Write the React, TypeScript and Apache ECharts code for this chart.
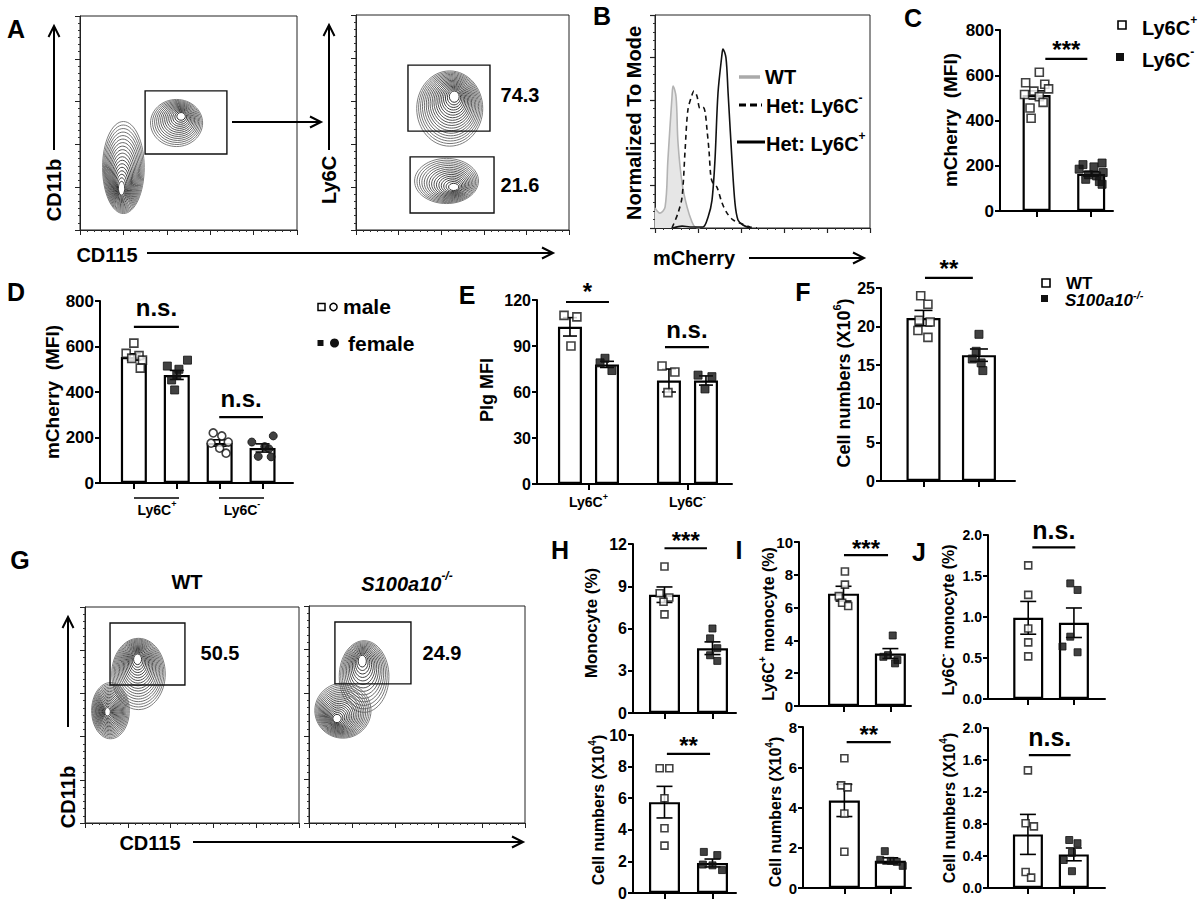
import React, { useEffect, useRef } from "react";
import * as echarts from "echarts";

const FONT = "'Liberation Sans', Arial, Helvetica, sans-serif";

// ---------------- Panel B: histogram (x: % of mCherry axis, y: % of mode)
const B_WT = [[0, 9.4], [2.3, 7], [4.7, 9.9], [6, 32], [7.9, 61.5], [8.4, 66.7], [9.8, 61.5], [10.7, 40], [12.6, 21], [14.9, 9.9], [17.2, 2.8], [18.6, 0.5], [21, 0]];
const B_NEG = [[7.9, 0], [10.7, 7], [12.6, 14.6], [14, 36.6], [15.3, 55.4], [17.2, 62.4], [18.1, 64.3], [19.5, 62], [20.9, 56.3], [22.3, 56.8], [23.3, 54.5], [24.2, 46], [25.1, 36.6], [26, 24], [27, 21], [28.8, 19.2], [31.2, 11.7], [33.5, 7], [36.3, 3.8], [39.5, 2.3], [44.2, 0.5], [47.4, 0]];
const B_POS = [[8.4, 0], [12.6, 0.9], [16.3, 0.5], [22.3, 0.5], [24.7, 5.2], [26.5, 13], [27.9, 32], [29.3, 63.4], [31.2, 82], [31.6, 84], [33, 80], [34, 63.4], [35.8, 32], [37.2, 11.7], [38.6, 3.8], [40.9, 1.4], [44.2, 0]];

// ---------------- Flow plots: populations [cx, cy, rx, ry, coreX, coreY, rings], gates [x0,y0,x1,y1]
const A1_POPS = [[20, 29.2, 9.6, 21.5, 19, 17.8, 18], [44.5, 50, 12, 11, 47, 53.7, 14]];
const A1_GATES = [[30, 35.5, 67.7, 65]];
const A2_POPS = [[44, 56.5, 15.5, 17.5, 46.5, 63, 18], [42.5, 22.8, 15, 10.5, 46.5, 19.5, 15]];
const A2_GATES = [[24.4, 46, 62.9, 76.7], [25.4, 7.9, 64.8, 34]];
const A2_PCT = ["74.3", "21.6"];
const G1_POPS = [[25, 69, 12.5, 16.5, 24.5, 77, 18], [11.9, 52, 8.8, 13, 10.3, 51.4, 18]];
const G1_GATES = [[11.7, 63.9, 46.7, 92.6]];
const G2_POPS = [[25.5, 67.5, 11.5, 16.5, 24.5, 76, 14], [15.7, 51.8, 13, 12.7, 12.5, 47.5, 18]];
const G2_GATES = [[12, 64.1, 47.2, 92.6]];
const G_PCT = ["50.5", "24.9"];

// ---------------- Panel C
const C_MEAN = [513, 164];
const C_SEM = [18, 10];
const C_PTS_POS = [613, 567, 560, 540, 530, 515, 505, 480, 455, 410];
const C_JIT_POS = [0.05, -0.2, 0.15, 0.22, -0.05, -0.22, 0.05, 0.12, -0.12, -0.1];
const C_PTS_NEG = [212, 205, 195, 185, 170, 160, 155, 140, 130, 118];
const C_JIT_NEG = [0.2, -0.15, 0.05, -0.22, 0.22, -0.05, 0.1, -0.1, 0.15, 0.2];
const C_SIG = [[0.16, 0.93, 672]];
const C_SIG_TXT = ["***"];

// ---------------- Panel D
const D_MEAN = [554, 475, 176, 154];
const D_SEM = [14, 20, 14, 18];
const D_M_POS = [615, 570, 560, 548, 540, 505];
const D_J_M_POS = [0.0, -0.18, 0.12, -0.05, 0.2, 0.15];
const D_F_POS = [540, 514, 500, 475, 453, 409];
const D_J_F_POS = [0.25, -0.22, 0.05, 0.0, -0.12, -0.05];
const D_M_NEG = [220, 207, 180, 175, 153, 131];
const D_J_M_NEG = [-0.15, 0.05, 0.2, -0.2, 0.0, 0.15];
const D_F_NEG = [207, 180, 160, 150, 117, 115];
const D_J_F_NEG = [0.25, -0.25, 0.05, 0.15, -0.1, 0.2];
const D_SIG = [[0, 1.05, 686], [1.99, 3.01, 290]];
const D_SIG_TXT = ["n.s.", "n.s."];

// ---------------- Panel E
const E_MEAN = [102.5, 78, 67.5, 67.5];
const E_SEM = [6, 2, 7.5, 3];
const E_WT_POS = [110, 109, 90];
const E_J_WT_POS = [-0.06, 0.07, 0.01];
const E_KO_POS = [82, 79, 74];
const E_J_KO_POS = [-0.02, -0.07, 0.05];
const E_WT_NEG = [77, 73, 59.6];
const E_J_WT_NEG = [-0.07, 0.06, -0.01];
const E_KO_NEG = [71, 70, 62];
const E_J_KO_NEG = [-0.08, 0.06, -0.01];
const E_SIG = [[-0.227, 0.207, 118.7], [0.773, 1.217, 89.3]];
const E_SIG_TXT = ["*", "n.s."];
const E_LABELS = ["{n|Ly6C}{s|+}", "{n|Ly6C}{s|-}"];

// ---------------- Panel F
const F_MEAN = [21.1, 16.3];
const F_SEM = [1.0, 0.8];
const F_WT = [24, 22.9, 20.8, 20.6, 19.5, 18.6];
const F_J_WT = [-0.05, 0.08, -0.08, 0.12, -0.1, 0.08];
const F_KO = [19, 16.8, 15.8, 15.3, 14.3];
const F_J_KO = [0.0, -0.05, -0.12, 0.04, 0.07];
const F_SIG = [[0.027, 0.89, 26.3]];
const F_SIG_TXT = ["**"];

// ---------------- Panel H
const HT_MEAN = [8.4, 4.6];
const HT_SEM = [0.55, 0.45];
const HT_WT = [10.4, 8.5, 8.2, 7.9, 7.0];
const HT_J_WT = [0.0, -0.1, 0.1, -0.02, 0.0];
const HT_KO = [6.0, 5.3, 4.6, 4.1, 3.7];
const HT_J_KO = [0.0, -0.05, 0.1, -0.05, 0.1];
const HT_SIG = [[0, 0.885, 11.7]];
const HB_MEAN = [5.75, 1.9];
const HB_SEM = [1.0, 0.25];
const HB_WT = [7.9, 7.9, 6.0, 4.1, 3.0];
const HB_J_WT = [-0.1, 0.1, 0.0, 0.0, 0.0];
const HB_KO = [2.6, 2.4, 1.8, 1.75, 1.45];
const HB_J_KO = [-0.18, 0.1, -0.2, 0.0, 0.2];
const HB_SIG = [[0.05, 0.95, 8.8]];

// ---------------- Panel I
const IT_MEAN = [6.85, 3.2];
const IT_SEM = [0.45, 0.3];
const IT_WT = [8.2, 7.4, 6.7, 6.3, 6.1];
const IT_J_WT = [0.03, 0.03, -0.1, -0.03, 0.1];
const IT_KO = [4.3, 3.1, 3.0, 2.8, 2.6];
const IT_J_KO = [0.05, -0.05, -0.15, 0.15, 0.1];
const IT_SIG = [[0.01, 0.95, 9.2]];
const IB_MEAN = [4.35, 1.35];
const IB_SEM = [0.8, 0.15];
const IB_WT = [6.45, 5.1, 5.0, 3.7, 1.8];
const IB_J_WT = [0.0, -0.07, 0.07, 0.0, 0.0];
const IB_KO = [1.83, 1.4, 1.35, 1.3, 1.1];
const IB_J_KO = [-0.12, -0.22, 0.01, 0.14, 0.27];
const IB_SIG = [[0.05, 1.01, 7.25]];

// ---------------- Panel J
const JT_MEAN = [0.99, 0.93];
const JT_SEM = [0.2, 0.18];
const JT_WT = [1.63, 1.27, 0.86, 0.69, 0.52];
const JT_J_WT = [0, 0, 0, 0, 0];
const JT_KO = [1.41, 1.33, 0.76, 0.64, 0.57];
const JT_J_KO = [-0.08, 0.08, -0.08, -0.25, 0.08];
const JT_SIG = [[0.09, 1.03, 1.85]];
const JB_MEAN = [0.67, 0.42];
const JB_SEM = [0.25, 0.08];
const JB_WT = [1.47, 0.81, 0.77, 0.2, 0.13];
const JB_J_WT = [0, -0.05, 0.13, -0.05, 0.07];
const JB_KO = [0.6, 0.56, 0.44, 0.35, 0.21];
const JB_J_KO = [-0.1, 0.08, -0.04, -0.22, -0.04];
const JB_SIG = [[0.02, 0.93, 1.66]];

// ==========================================================
function richStyles(fs: number, italic = false) {
  const base: any = { fontSize: fs, fontWeight: "bold", fontFamily: FONT, fontStyle: italic ? "italic" : "normal", fill: "#000", color: "#000" };
  const sfs = Math.round(fs * 0.62);
  return {
    n: { ...base, verticalAlign: "bottom", lineHeight: Math.round(fs * 1.2) },
    s: { ...base, fontSize: sfs, verticalAlign: "top", lineHeight: sfs },
  };
}
function rich(parts: [string, string][], fs: number, italic = false) {
  return { text: parts.map(([t, k]) => `{${k}|${t}}`).join(""), rich: richStyles(fs, italic) };
}

function txt(x: number, y: number, content: string | { text: string; rich: any }, fs: number, o: any = {}) {
  const r = typeof content === "string" ? { text: content } : content;
  return {
    type: "text", x, y, rotation: o.rot || 0, z: 50,
    style: {
      ...r, fontSize: fs, fontWeight: o.fw || "bold", fontStyle: o.it ? "italic" : "normal",
      fontFamily: FONT, fill: "#000", align: o.align || "center", verticalAlign: "middle",
    },
  };
}

function line(x1: number, y1: number, x2: number, y2: number, w = 2, extra: any = {}) {
  return { type: "line", z: 50, shape: { x1, y1, x2, y2 }, style: { stroke: "#000", lineWidth: w, ...extra } };
}

function arrow(x1: number, y1: number, x2: number, y2: number) {
  const a = Math.atan2(y2 - y1, x2 - x1);
  const L = 11, W = 5.5;
  const bx = x2 - L * Math.cos(a), by = y2 - L * Math.sin(a);
  const px = -Math.sin(a) * W, py = Math.cos(a) * W;
  return [
    line(x1, y1, x2, y2, 2),
    { type: "polyline", z: 50, shape: { points: [[bx + px, by + py], [x2, y2], [bx - px, by - py]] }, style: { stroke: "#000", lineWidth: 2, fill: "none" } },
  ];
}

function buildOption() {
  const option: any = { animation: false, backgroundColor: "#fff", grid: [], xAxis: [], yAxis: [], series: [], graphic: [] };
  const G = option.graphic;

  const addGrid = (l: number, t: number, r: number, b: number, extra: any = {}) => {
    option.grid.push({ left: l, top: t, width: r - l, height: b - t, containLabel: false, ...extra });
    return option.grid.length - 1;
  };

  // ---------- flow cytometry contour plots
  const addFlow = (box: number[], pops: number[][], gates: number[][]) => {
    const gi = addGrid(box[0], box[1], box[2], box[3], { show: true, borderColor: "#222", borderWidth: 1, backgroundColor: "transparent" });
    const ax = () => ({
      type: "value", gridIndex: gi, min: 0, max: 100, interval: 20,
      axisLine: { show: true, onZero: false, lineStyle: { color: "#222", width: 1 } },
      axisTick: { show: true, inside: false, length: 5, lineStyle: { color: "#222", width: 1 } },
      minorTick: { show: true, splitNumber: 6, length: 2, lineStyle: { color: "#333", width: 1 } },
      axisLabel: { show: false }, splitLine: { show: false },
    });
    option.xAxis.push(ax());
    option.yAxis.push(ax());
    option.series.push({
      type: "custom", xAxisIndex: gi, yAxisIndex: gi, data: pops, z: 3,
      renderItem: (params: any, api: any) => {
        const cx = api.value(0), cy = api.value(1), rx = api.value(2), ry = api.value(3);
        const kx = api.value(4), ky = api.value(5), n = api.value(6);
        const children: any[] = [];
        for (let i = 0; i < n; i++) {
          const s = 1 - (i * 0.9) / n;
          const c = api.coord([kx + (cx - kx) * s, ky + (cy - ky) * s]);
          const sz = api.size([rx * s, ry * s]);
          const g = Math.round(110 - (85 * i) / Math.max(1, n - 1));
          children.push({ type: "ellipse", shape: { cx: c[0], cy: c[1], rx: sz[0], ry: sz[1] }, style: { fill: "none", stroke: `rgb(${g},${g},${g})`, lineWidth: 0.9 } });
        }
        return { type: "group", children };
      },
    });
    option.series.push({
      type: "custom", xAxisIndex: gi, yAxisIndex: gi, data: gates, z: 4,
      renderItem: (params: any, api: any) => {
        const p0 = api.coord([api.value(0), api.value(3)]);
        const p1 = api.coord([api.value(2), api.value(1)]);
        return { type: "rect", shape: { x: p0[0], y: p0[1], width: p1[0] - p0[0], height: p1[1] - p0[1] }, style: { fill: "none", stroke: "#111", lineWidth: 1.4 } };
      },
    });
  };

  addFlow([80, 16, 297, 230], A1_POPS, A1_GATES);
  addFlow([356, 15, 569, 230], A2_POPS, A2_GATES);
  addFlow([85, 607, 299, 823], G1_POPS, G1_GATES);
  addFlow([309, 606, 525, 823], G2_POPS, G2_GATES);

  // ---------- histogram B
  {
    const gi = addGrid(655, 15, 870, 228, { show: true, borderColor: "#222", borderWidth: 1, backgroundColor: "transparent" });
    const ax = () => ({
      type: "value", gridIndex: gi, min: 0, max: 100, interval: 20,
      axisLine: { show: true, onZero: false, lineStyle: { color: "#222", width: 1 } },
      axisTick: { show: true, length: 5, lineStyle: { color: "#222", width: 1.2 } },
      minorTick: { show: true, splitNumber: 5, length: 2, lineStyle: { color: "#333" } },
      axisLabel: { show: false }, splitLine: { show: false },
    });
    option.xAxis.push(ax());
    option.yAxis.push(ax());
    option.series.push(
      { type: "line", xAxisIndex: gi, yAxisIndex: gi, data: B_WT, symbol: "none", smooth: 0.35, z: 2, lineStyle: { color: "#b3b3b3", width: 1.6 }, areaStyle: { color: "#e6e6e6", opacity: 1 } },
      { type: "line", xAxisIndex: gi, yAxisIndex: gi, data: B_NEG, symbol: "none", smooth: 0.3, z: 3, lineStyle: { color: "#111", width: 1.6, type: [5, 4] } },
      { type: "line", xAxisIndex: gi, yAxisIndex: gi, data: B_POS, symbol: "none", smooth: 0.3, z: 3, lineStyle: { color: "#111", width: 1.6 } }
    );
  }

  // ---------- bar panels
  type PSet = { vals: number[]; jit: number[]; bar: number; sym: string; filled: boolean };
  const addBars = (c: any) => {
    const gi = addGrid(c.box[0], c.box[1], c.box[2], c.box[3]);
    option.xAxis.push({
      type: "value", gridIndex: gi, min: c.xr[0], max: c.xr[1],
      axisLine: { show: true, onZero: false, lineStyle: { color: "#000", width: 2 } },
      axisTick: { show: true, customValues: c.ticks, length: 6, lineStyle: { color: "#000", width: 2 } },
      axisLabel: c.xLabels
        ? { show: true, customValues: c.ticks, margin: 8, formatter: (v: number) => c.xLabels[Math.round(v)], rich: richStyles(14) }
        : { show: false },
      splitLine: { show: false },
    });
    option.yAxis.push({
      type: "value", gridIndex: gi, min: 0, max: c.yMax, interval: c.yInt,
      axisLine: { show: true, onZero: false, lineStyle: { color: "#000", width: 2 } },
      axisTick: { show: true, length: 5, lineStyle: { color: "#000", width: 2 } },
      axisLabel: { fontSize: c.fs, fontWeight: "bold", fontFamily: FONT, color: "#000", margin: 6, formatter: (v: number) => v.toFixed(c.dec) },
      splitLine: { show: false },
    });
    option.series.push({
      type: "bar", xAxisIndex: gi, yAxisIndex: gi, z: 2, barWidth: c.barW,
      data: c.pos.map((p: number, i: number) => [p, c.means[i]]),
      itemStyle: { color: "#fff", borderColor: "#000", borderWidth: 2.2 },
    });
    option.series.push({
      type: "custom", xAxisIndex: gi, yAxisIndex: gi, z: 4, clip: false,
      data: c.pos.map((p: number, i: number) => [p, c.means[i], c.sems[i]]),
      renderItem: (params: any, api: any) => {
        const x = api.value(0), m = api.value(1), s = api.value(2);
        const t = api.coord([x, m + s]), b = api.coord([x, m - s]);
        const w = c.cap;
        const st = { stroke: "#000", lineWidth: 1.6 };
        return {
          type: "group",
          children: [
            { type: "line", shape: { x1: t[0], y1: t[1], x2: b[0], y2: b[1] }, style: st },
            { type: "line", shape: { x1: t[0] - w, y1: t[1], x2: t[0] + w, y2: t[1] }, style: st },
            { type: "line", shape: { x1: b[0] - w, y1: b[1], x2: b[0] + w, y2: b[1] }, style: st },
          ],
        };
      },
    });
    c.sets.forEach((s: PSet) => {
      option.series.push({
        type: "scatter", xAxisIndex: gi, yAxisIndex: gi, z: 5, symbol: s.sym, symbolSize: c.sym,
        data: s.vals.map((v, i) => [c.pos[s.bar] + s.jit[i], v]),
        itemStyle: s.filled ? { color: "#111", borderColor: "#111", borderWidth: 1 } : { color: "#fff", borderColor: "#111", borderWidth: 1.6 },
      });
    });
    option.series.push({
      type: "custom", xAxisIndex: gi, yAxisIndex: gi, z: 6, clip: false,
      data: c.sig,
      renderItem: (params: any, api: any) => {
        const p0 = api.coord([api.value(0), api.value(2)]);
        const p1 = api.coord([api.value(1), api.value(2)]);
        const label = c.sigTxt[params.dataIndex];
        const star = label.indexOf("*") >= 0;
        return {
          type: "group",
          children: [
            { type: "line", shape: { x1: p0[0], y1: p0[1], x2: p1[0], y2: p1[1] }, style: { stroke: "#000", lineWidth: 2.2 } },
            {
              type: "text", x: (p0[0] + p1[0]) / 2, y: p0[1] - (star ? c.dyStar : c.dyNs),
              style: { text: label, fontSize: star ? 24 : c.nsFs, fontWeight: "bold", fontFamily: FONT, fill: "#000", align: "center", verticalAlign: "middle" },
            },
          ],
        };
      },
    });
  };

  const two = (wt: number[], jwt: number[], ko: number[], jko: number[]): PSet[] => [
    { vals: wt, jit: jwt, bar: 0, sym: "rect", filled: false },
    { vals: ko, jit: jko, bar: 1, sym: "rect", filled: true },
  ];

  // C
  addBars({ box: [1000, 30, 1113, 211], xr: [-0.67, 1.4], pos: [0, 1], ticks: [0, 1], barW: 28, yMax: 800, yInt: 200, dec: 0, fs: 17,
    means: C_MEAN, sems: C_SEM, cap: 8, sym: 8, sets: two(C_PTS_POS, C_JIT_POS, C_PTS_NEG, C_JIT_NEG),
    sig: C_SIG, sigTxt: C_SIG_TXT, dyStar: 9, dyNs: 18, nsFs: 24 });
  // D
  addBars({ box: [100, 301, 293, 483], xr: [-0.79, 3.71], pos: [0, 1, 2, 3], ticks: [0, 1, 2, 3], barW: 26, yMax: 800, yInt: 200, dec: 0, fs: 17,
    means: D_MEAN, sems: D_SEM, cap: 7, sym: 8,
    sets: [
      { vals: D_M_POS, jit: D_J_M_POS, bar: 0, sym: "rect", filled: false },
      { vals: D_F_POS, jit: D_J_F_POS, bar: 1, sym: "rect", filled: true },
      { vals: D_M_NEG, jit: D_J_M_NEG, bar: 2, sym: "circle", filled: false },
      { vals: D_F_NEG, jit: D_J_F_NEG, bar: 3, sym: "circle", filled: true },
    ],
    sig: D_SIG, sigTxt: D_SIG_TXT, dyStar: 9, dyNs: 19, nsFs: 24 });
  // E
  addBars({ box: [537, 300, 732, 484], xr: [-0.52, 1.45], pos: [-0.187, 0.187, 0.813, 1.187], ticks: [0, 1], barW: 24, yMax: 120, yInt: 30, dec: 0, fs: 16,
    means: E_MEAN, sems: E_SEM, cap: 7, sym: 8, xLabels: E_LABELS,
    sets: [
      { vals: E_WT_POS, jit: E_J_WT_POS, bar: 0, sym: "rect", filled: false },
      { vals: E_KO_POS, jit: E_J_KO_POS, bar: 1, sym: "rect", filled: true },
      { vals: E_WT_NEG, jit: E_J_WT_NEG, bar: 2, sym: "rect", filled: false },
      { vals: E_KO_NEG, jit: E_J_KO_NEG, bar: 3, sym: "rect", filled: true },
    ],
    sig: E_SIG, sigTxt: E_SIG_TXT, dyStar: 10, dyNs: 18, nsFs: 24 });
  // F
  addBars({ box: [881, 288, 1015, 481], xr: [-0.766, 1.65], pos: [0, 1], ticks: [0, 1], barW: 34, yMax: 25, yInt: 5, dec: 0, fs: 16,
    means: F_MEAN, sems: F_SEM, cap: 9, sym: 8, sets: two(F_WT, F_J_WT, F_KO, F_J_KO),
    sig: F_SIG, sigTxt: F_SIG_TXT, dyStar: 9, dyNs: 18, nsFs: 24 });
  // H
  addBars({ box: [633, 544, 736, 713], xr: [-0.656, 1.49], pos: [0, 1], ticks: [0, 1], barW: 31, yMax: 12, yInt: 3, dec: 0, fs: 16,
    means: HT_MEAN, sems: HT_SEM, cap: 8, sym: 7, sets: two(HT_WT, HT_J_WT, HT_KO, HT_J_KO),
    sig: HT_SIG, sigTxt: ["***"], dyStar: 8, dyNs: 18, nsFs: 24 });
  addBars({ box: [633, 735, 736, 893], xr: [-0.656, 1.49], pos: [0, 1], ticks: [0, 1], barW: 31, yMax: 10, yInt: 2, dec: 0, fs: 16,
    means: HB_MEAN, sems: HB_SEM, cap: 8, sym: 7, sets: two(HB_WT, HB_J_WT, HB_KO, HB_J_KO),
    sig: HB_SIG, sigTxt: ["**"], dyStar: 8, dyNs: 18, nsFs: 24 });
  // I
  addBars({ box: [799, 542, 911, 706], xr: [-0.95, 1.44], pos: [0, 1], ticks: [0, 1], barW: 31, yMax: 10, yInt: 2, dec: 0, fs: 15,
    means: IT_MEAN, sems: IT_SEM, cap: 8, sym: 7, sets: two(IT_WT, IT_J_WT, IT_KO, IT_J_KO),
    sig: IT_SIG, sigTxt: ["***"], dyStar: 7, dyNs: 18, nsFs: 24 });
  addBars({ box: [803, 727, 911, 888], xr: [-0.9, 1.45], pos: [0, 1], ticks: [0, 1], barW: 31, yMax: 8, yInt: 2, dec: 0, fs: 15,
    means: IB_MEAN, sems: IB_SEM, cap: 8, sym: 7, sets: two(IB_WT, IB_J_WT, IB_KO, IB_J_KO),
    sig: IB_SIG, sigTxt: ["**"], dyStar: 8, dyNs: 18, nsFs: 24 });
  // J
  addBars({ box: [988, 535, 1105, 699], xr: [-0.88, 1.68], pos: [0, 1], ticks: [0, 1], barW: 30, yMax: 2, yInt: 0.5, dec: 1, fs: 14,
    means: JT_MEAN, sems: JT_SEM, cap: 8, sym: 7, sets: two(JT_WT, JT_J_WT, JT_KO, JT_J_KO),
    sig: JT_SIG, sigTxt: ["n.s."], dyStar: 8, dyNs: 17, nsFs: 25 });
  addBars({ box: [988, 728, 1105, 888], xr: [-0.87, 1.68], pos: [0, 1], ticks: [0, 1], barW: 30, yMax: 2, yInt: 0.4, dec: 1, fs: 14,
    means: JB_MEAN, sems: JB_SEM, cap: 8, sym: 7, sets: two(JB_WT, JB_J_WT, JB_KO, JB_J_KO),
    sig: JB_SIG, sigTxt: ["n.s."], dyStar: 8, dyNs: 18, nsFs: 25 });

  // ---------- panel letters
  [["A", 16, 29], ["B", 602, 16], ["C", 913, 18], ["D", 16, 292], ["E", 467, 295], ["F", 803, 292], ["G", 20, 560], ["H", 560, 550], ["I", 739, 550], ["J", 919, 552]].forEach(
    ([t, x, y]: any) => G.push(txt(x, y, t, 25))
  );

  // ---------- A annotations
  G.push(txt(54, 190, "CD11b", 20, { rot: Math.PI / 2 }), ...arrow(54, 150, 54, 26));
  G.push(txt(329, 180, "Ly6C", 20, { rot: Math.PI / 2 }), ...arrow(329, 150, 329, 25));
  G.push(txt(107, 255, "CD115", 20), ...arrow(147, 253, 553, 253));
  G.push(...arrow(232, 122, 321, 122));
  G.push(txt(520, 95, A2_PCT[0], 20), txt(520, 185, A2_PCT[1], 20));

  // ---------- B annotations
  G.push(txt(634, 123, "Normalized To Mode", 20, { rot: Math.PI / 2 }));
  G.push(txt(694, 258, "mCherry", 20), ...arrow(749, 258, 864, 258));
  G.push(line(739, 77, 760, 77, 3.5, { stroke: "#aaa" }), txt(765, 77, "WT", 20, { align: "left" }));
  G.push(line(739, 105, 762, 105, 3, { lineDash: [7, 4] }), txt(766, 104, rich([["Het: Ly6C", "n"], ["-", "s"]], 20), 20, { align: "left" }));
  G.push(line(737, 142, 765, 142, 3), txt(766, 142, rich([["Het: Ly6C", "n"], ["+", "s"]], 20), 20, { align: "left" }));

  // ---------- C annotations
  G.push(txt(950, 120, "mCherry  (MFI)", 19, { rot: Math.PI / 2 }));
  G.push({ type: "rect", z: 50, shape: { x: 1118, y: 21, width: 8, height: 8 }, style: { fill: "#fff", stroke: "#000", lineWidth: 1.6 } });
  G.push({ type: "rect", z: 50, shape: { x: 1116, y: 53, width: 8, height: 8 }, style: { fill: "#111" } });
  G.push(txt(1142, 26, rich([["Ly6C", "n"], ["+", "s"]], 20), 20, { align: "left" }));
  G.push(txt(1142, 58, rich([["Ly6C", "n"], ["-", "s"]], 20), 20, { align: "left" }));

  // ---------- D annotations
  G.push(txt(52, 392, "mCherry  (MFI)", 19, { rot: Math.PI / 2 }));
  G.push(line(134, 498, 179, 498, 1.6), line(219, 498, 264, 498, 1.6));
  G.push(txt(157, 508, rich([["Ly6C", "n"], ["+", "s"]], 14), 14), txt(242, 508, rich([["Ly6C", "n"], ["-", "s"]], 14), 14));
  G.push({ type: "rect", z: 50, shape: { x: 318, y: 303.5, width: 7, height: 7 }, style: { fill: "#fff", stroke: "#000", lineWidth: 1.5 } });
  G.push({ type: "circle", z: 50, shape: { cx: 333.5, cy: 307, r: 3.6 }, style: { fill: "#fff", stroke: "#000", lineWidth: 1.5 } });
  G.push(txt(343, 306, "male", 21, { align: "left" }));
  G.push({ type: "rect", z: 50, shape: { x: 317.5, y: 340, width: 6, height: 6 }, style: { fill: "#111" } });
  G.push({ type: "circle", z: 50, shape: { cx: 334.5, cy: 343, r: 4.5 }, style: { fill: "#111" } });
  G.push(txt(348, 343, "female", 21, { align: "left" }));

  // ---------- E annotations
  G.push(txt(487, 390, "Plg MFI", 18, { rot: Math.PI / 2 }));

  // ---------- F annotations
  G.push(txt(842, 383, rich([["Cell numbers (X10", "n"], ["6", "s"], [")", "n"]], 18), 18, { rot: Math.PI / 2 }));
  G.push({ type: "rect", z: 50, shape: { x: 1042, y: 279, width: 8, height: 8 }, style: { fill: "#fff", stroke: "#000", lineWidth: 1.6 } });
  G.push({ type: "rect", z: 50, shape: { x: 1041, y: 295, width: 7, height: 7 }, style: { fill: "#111" } });
  G.push(txt(1066, 283, "WT", 17, { align: "left" }));
  G.push(txt(1065, 299, rich([["S100a10", "n"], ["-/-", "s"]], 17, true), 17, { align: "left", it: true }));

  // ---------- G annotations
  G.push(txt(187, 582, "WT", 20));
  G.push(txt(407, 582, rich([["S100a10", "n"], ["-/-", "s"]], 20, true), 20, { it: true }));
  G.push(txt(68, 797, "CD11b", 20, { rot: Math.PI / 2 }), ...arrow(68, 727, 68, 617));
  G.push(txt(150, 843, "CD115", 20), ...arrow(193, 842, 523, 842));
  G.push(txt(220, 653, G_PCT[0], 20), txt(442, 653, G_PCT[1], 20));

  // ---------- H / I / J axis titles
  G.push(txt(591, 623, "Monocyte (%)", 17, { rot: Math.PI / 2 }));
  G.push(txt(597, 810, rich([["Cell numbers (X10", "n"], ["4", "s"], [")", "n"]], 16), 16, { rot: Math.PI / 2 }));
  G.push(txt(767, 624, rich([["Ly6C", "n"], ["+", "s"], [" monocyte (%)", "n"]], 16), 16, { rot: Math.PI / 2 }));
  G.push(txt(774, 812, rich([["Cell numbers (X10", "n"], ["4", "s"], [")", "n"]], 16), 16, { rot: Math.PI / 2 }));
  G.push(txt(947, 620, rich([["Ly6C", "n"], ["-", "s"], [" monocyte (%)", "n"]], 16), 16, { rot: Math.PI / 2 }));
  G.push(txt(948, 808, rich([["Cell numbers (X10", "n"], ["4", "s"], [")", "n"]], 16), 16, { rot: Math.PI / 2 }));

  return option;
}

export default function App() {
  const ref = useRef<HTMLDivElement>(null);
  useEffect(() => {
    if (!ref.current) return;
    const chart = echarts.init(ref.current, null, { renderer: "svg", width: 1200, height: 904 });
    chart.setOption(buildOption());
    return () => chart.dispose();
  }, []);
  return <div ref={ref} style={{ position: "absolute", left: 0, top: 0, width: 1200, height: 904, background: "#fff" }} />;
}
